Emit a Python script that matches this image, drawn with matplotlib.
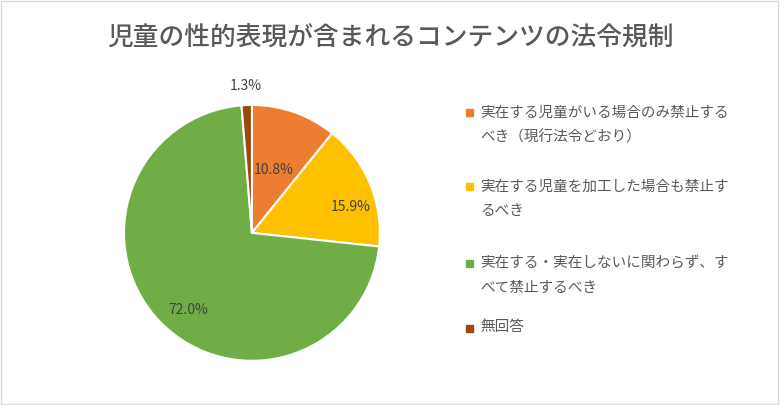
import matplotlib
matplotlib.use("Agg")
import matplotlib.pyplot as plt
from matplotlib.patches import Rectangle
import numpy as np

plt.rcParams["font.family"] = "Noto Sans CJK JP"

title = "児童の性的表現が含まれるコンテンツの法令規制"
categories = ["実在する児童がいる場合のみ禁止する\nべき（現行法令どおり）",
              "実在する児童を加工した場合も禁止す\nるべき",
              "実在する・実在しないに関わらず、す\nべて禁止するべき",
              "無回答"]
values = [10.8, 15.9, 72.0, 1.3]
labels = ["10.8%", "15.9%", "72.0%", "1.3%"]
colors = ["#ED7D31", "#FFC000", "#70AD47", "#9E480E"]

fig = plt.figure(figsize=(7.8, 4.05), dpi=100)
fig.patches.append(Rectangle((0.001, 0.002), 0.997, 0.995, transform=fig.transFigure,
                             fill=False, edgecolor="#D9D9D9", linewidth=1))
ax = fig.add_axes([0.159, 0.109, 0.328, 0.632])
wedges, _ = ax.pie(values, colors=colors, startangle=90, counterclock=False,
                   wedgeprops=dict(edgecolor="white", linewidth=1.5))
ax.set_xlim(-1, 1); ax.set_ylim(-1, 1); ax.set_aspect("equal")
dists = [0.52, 0.8, 0.78, 1.15]
angs = [0, -8, 6, 0]
for w, lab, d, da in zip(wedges, labels, dists, angs):
    ang = np.deg2rad((w.theta1 + w.theta2) / 2 + da)
    ax.text(d * np.cos(ang), d * np.sin(ang), lab, ha="center", va="center",
            fontsize=10, color="#404040")

fig.text(0.5, 0.905, title, ha="center", va="center", fontsize=18.5,
         color="#595959", fontweight="medium")

ys = [125, 199, 276, 327]
for c, lab, y in zip(colors, categories, ys):
    fy = 1 - y / 405
    fig.patches.append(Rectangle((466 / 780, fy - 0.012 + (0.035 if "\n" in lab else 0)), 7 / 780, 7 / 405,
                                 transform=fig.transFigure, color=c))
    fig.text(480 / 780, fy, lab, ha="left", va="center", fontsize=10.5,
             color="#595959", linespacing=1.9)

fig.savefig("out.png", dpi=100)
